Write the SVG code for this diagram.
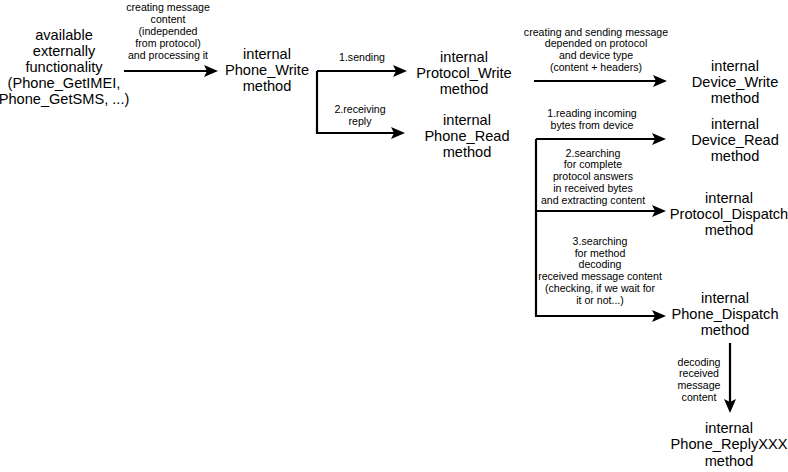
<svg xmlns="http://www.w3.org/2000/svg" width="788" height="472" viewBox="0 0 788 472">
<style>
.n{font-family:"Liberation Sans",Arial,sans-serif;font-size:14.6px;fill:#000;text-anchor:middle}
.l{font-family:"Liberation Sans",Arial,sans-serif;font-size:10.6px;fill:#000;text-anchor:middle}
.c{fill:none;stroke:#000;stroke-width:2.2}
</style>
<defs>
<marker id="ah" viewBox="0 0 14 12" refX="4" refY="6" markerWidth="14" markerHeight="12" markerUnits="userSpaceOnUse" orient="auto">
<path d="M0,0 L14,6 L0,12 L3,6 Z" fill="#000"/>
</marker>
</defs>
<rect width="788" height="472" fill="#fff"/>
<g id="connectors">
<path class="c" d="M124,71 H208" marker-end="url(#ah)"/>
<path class="c" d="M317,71 H397" marker-end="url(#ah)"/>
<path class="c" d="M317,71 V133 H395" marker-end="url(#ah)"/>
<path class="c" d="M534,81 H657" marker-end="url(#ah)"/>
<path class="c" d="M536,139 H656" marker-end="url(#ah)"/>
<path class="c" d="M536,139 V316 H656" marker-end="url(#ah)"/>
<path class="c" d="M536,211 H656" marker-end="url(#ah)"/>
<path class="c" d="M730,343 V403" marker-end="url(#ah)"/>
</g>
<g id="labels">
<text class="l"><tspan x="168" y="11">creating message</tspan><tspan x="168" y="23">content</tspan><tspan x="168" y="35">(independed</tspan><tspan x="168" y="47">from protocol)</tspan><tspan x="168" y="59">and processing it</tspan></text>
<text class="l"><tspan x="362" y="61">1.sending</tspan></text>
<text class="l"><tspan x="360" y="113">2.receiving</tspan><tspan x="360" y="125">reply</tspan></text>
<text class="l"><tspan x="596" y="36">creating and sending message</tspan><tspan x="596" y="47">depended on protocol</tspan><tspan x="596" y="59">and device type</tspan><tspan x="596" y="71">(content + headers)</tspan></text>
<text class="l"><tspan x="592" y="117">1.reading incoming</tspan><tspan x="592" y="129">bytes from device</tspan></text>
<text class="l"><tspan x="593" y="157">2.searching</tspan><tspan x="593" y="168">for complete</tspan><tspan x="593" y="180">protocol answers</tspan><tspan x="593" y="192">in received bytes</tspan><tspan x="593" y="204">and extracting content</tspan></text>
<text class="l"><tspan x="600" y="245">3.searching</tspan><tspan x="600" y="257">for method</tspan><tspan x="600" y="268">decoding</tspan><tspan x="600" y="280">received message content</tspan><tspan x="600" y="292">(checking, if we wait for</tspan><tspan x="600" y="304">it or not...)</tspan></text>
<text class="l"><tspan x="699" y="366">decoding</tspan><tspan x="699" y="377">received</tspan><tspan x="699" y="389">message</tspan><tspan x="699" y="401">content</tspan></text>
</g>
<g id="external"><text class="n"><tspan x="64" y="40">available</tspan><tspan x="64" y="56">externally</tspan><tspan x="64" y="72">functionality</tspan><tspan x="64" y="88">(Phone_GetIMEI,</tspan><tspan x="64" y="104">Phone_GetSMS, ...)</tspan></text></g>
<g id="phone_write"><text class="n"><tspan x="267" y="59">internal</tspan><tspan x="267" y="75">Phone_Write</tspan><tspan x="267" y="91">method</tspan></text></g>
<g id="protocol_write"><text class="n"><tspan x="464" y="62">internal</tspan><tspan x="464" y="78">Protocol_Write</tspan><tspan x="464" y="94">method</tspan></text></g>
<g id="phone_read"><text class="n"><tspan x="467" y="125">internal</tspan><tspan x="467" y="141">Phone_Read</tspan><tspan x="467" y="157">method</tspan></text></g>
<g id="device_write"><text class="n"><tspan x="735" y="71">internal</tspan><tspan x="735" y="87">Device_Write</tspan><tspan x="735" y="103">method</tspan></text></g>
<g id="device_read"><text class="n"><tspan x="735" y="129">internal</tspan><tspan x="735" y="145">Device_Read</tspan><tspan x="735" y="161">method</tspan></text></g>
<g id="protocol_dispatch"><text class="n"><tspan x="729" y="203">internal</tspan><tspan x="729" y="219">Protocol_Dispatch</tspan><tspan x="729" y="235">method</tspan></text></g>
<g id="phone_dispatch"><text class="n"><tspan x="725" y="303">internal</tspan><tspan x="725" y="319">Phone_Dispatch</tspan><tspan x="725" y="335">method</tspan></text></g>
<g id="phone_replyxxx"><text class="n"><tspan x="729" y="433">internal</tspan><tspan x="729" y="449">Phone_ReplyXXX</tspan><tspan x="729" y="466">method</tspan></text></g>
</svg>
